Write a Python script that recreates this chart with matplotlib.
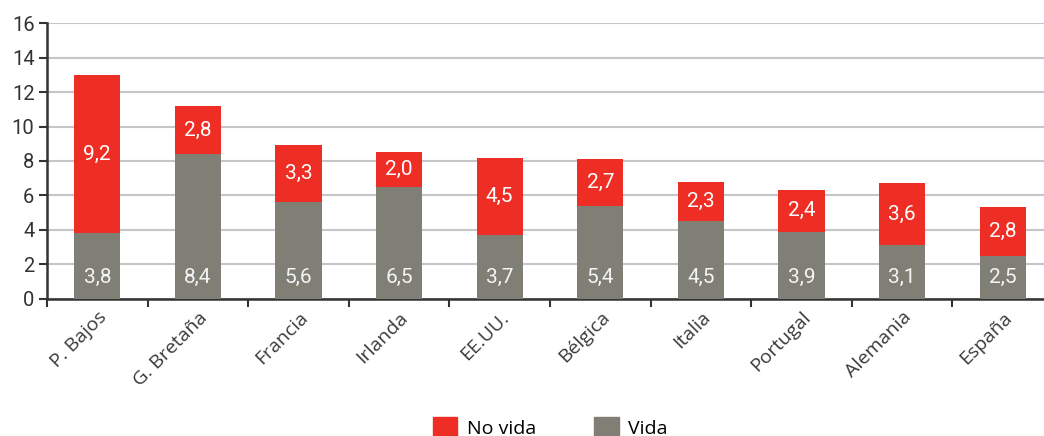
import matplotlib
matplotlib.use("Agg")
import matplotlib.pyplot as plt
import numpy as np
from matplotlib.patches import Patch

paises = ["P. Bajos", "G. Bretaña", "Francia", "Irlanda", "EE.UU.",
          "Bélgica", "Italia", "Portugal", "Alemania", "España"]
vida = [3.8, 8.4, 5.6, 6.5, 3.7, 5.4, 4.5, 3.9, 3.1, 2.5]
no_vida = [9.2, 2.8, 3.3, 2.0, 4.5, 2.7, 2.3, 2.4, 3.6, 2.8]
yticks = [0, 2, 4, 6, 8, 10, 12, 14, 16]

rojo = "#ee2e24"
gris = "#807f76"
num_font = ["Roboto", "DejaVu Sans"]
txt_font = ["Open Sans", "DejaVu Sans"]

fig = plt.figure(figsize=(10.44, 4.36), dpi=100)
ax = fig.add_axes([0.045, 0.315, 0.9636, 0.6316])

x = np.arange(len(paises))
ancho = 0.46
ax.bar(x, vida, ancho, color=gris, zorder=3, label="Vida")
ax.bar(x, no_vida, ancho, bottom=vida, color=rojo, zorder=3, label="No vida")

for i in range(len(paises)):
    ax.text(x[i], 1.25, f"{vida[i]:.1f}".replace(".", ","), color="#f4f4f4",
            ha="center", va="center", fontsize=15, family=num_font, zorder=4)
    ax.text(x[i], vida[i] + no_vida[i] / 2, f"{no_vida[i]:.1f}".replace(".", ","),
            color="white", ha="center", va="center", fontsize=15,
            family=num_font, zorder=4)

ax.set_xlim(-0.5, len(paises) - 0.5)
ax.set_ylim(0, 16)
ax.set_yticks(yticks)
ax.set_yticklabels([str(t) for t in yticks], family=num_font, fontsize=14.5,
                   color="#333333")
ax.grid(axis="y", color="#c6c6ca", linewidth=1.5, zorder=0)
ax.set_axisbelow(True)

ax.set_xticks(x)
ax.set_xticklabels(paises, rotation=45, ha="right", va="top", rotation_mode="anchor",
                   family=txt_font, fontsize=14, color="#3a3a3a")
ax.set_xticks(np.arange(len(paises) + 1) - 0.5, minor=True)
ax.tick_params(axis="x", which="major", length=0, pad=7)
ax.tick_params(axis="x", which="minor", length=6, width=1.5, color="#333333", direction="out")
ax.tick_params(axis="y", length=6, width=1.5, color="#333333", pad=3)

for s in ["top", "right"]:
    ax.spines[s].set_visible(False)
for s in ["left", "bottom"]:
    ax.spines[s].set_color("#333333")
    ax.spines[s].set_linewidth(1.8)

handles = [Patch(color=rojo, label="No vida"), Patch(color=gris, label="Vida")]
fig.legend(handles=handles, loc="center", bbox_to_anchor=(0.527, 0.02), ncol=2,
           frameon=False, prop={"family": txt_font, "size": 14},
           handlelength=1.25, handleheight=1.25, columnspacing=3.0, handletextpad=0.5)

fig.savefig("out.png", dpi=100)
